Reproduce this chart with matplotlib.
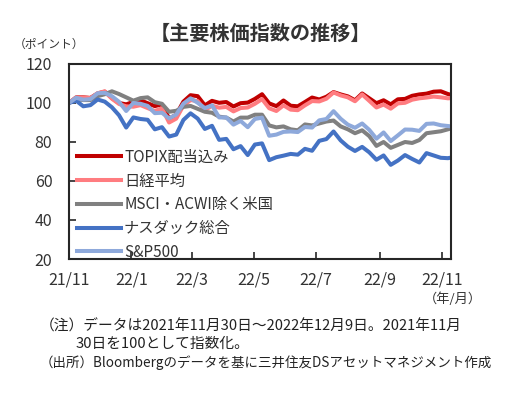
import pandas as pd
import matplotlib
matplotlib.use("Agg")
import matplotlib.pyplot as plt

plt.rcParams["font.family"] = ["Noto Sans CJK JP", "DejaVu Sans"]

# weekly samples, 2021-11-30 .. 2022-12-09 (index, 2021/11/30 = 100)
dates = list(pd.date_range("2021-11-30", "2022-12-06", freq="7D")) + [pd.Timestamp("2022-12-09")]

topix_tr = [100.0, 102.9, 102.9, 102.6, 104.9, 105.8, 102.5, 100.0, 99.3, 100.6,
            101.4, 99.9, 98.4, 99.3, 92.0, 94.0, 100.7, 104.0, 103.5, 98.8,
            101.1, 100.1, 100.5, 98.2, 99.9, 100.2, 102.1, 104.5, 99.8, 98.4,
            101.3, 98.6, 98.3, 100.5, 102.8, 101.8, 103.2, 105.6, 104.4, 103.4,
            101.4, 104.9, 102.4, 99.9, 101.4, 99.3, 101.9, 102.1, 103.7, 104.4,
            104.8, 105.8, 106.0, 104.6, 104.2]
nikkei = [100.0, 102.8, 102.8, 102.5, 105.0, 106.0, 102.2, 99.5, 98.3, 98.1,
          98.9, 97.4, 95.9, 97.3, 90.0, 92.0, 98.7, 101.5, 101.0, 96.3,
          98.6, 97.6, 98.0, 95.7, 97.4, 97.7, 99.6, 102.0, 97.3, 95.9,
          98.8, 96.6, 96.3, 98.8, 101.0, 100.8, 102.2, 105.4, 103.9, 102.9,
          100.9, 104.4, 101.1, 97.7, 99.2, 97.1, 99.8, 100.1, 101.7, 102.4,
          102.8, 103.3, 102.9, 102.4, 102.5]
msci_ex_us = [100.0, 102.0, 101.5, 101.5, 103.5, 104.5, 106.0, 104.6, 102.9, 101.2,
              102.5, 102.9, 100.4, 99.6, 95.5, 96.0, 98.0, 98.5, 97.0, 95.5,
              95.0, 93.0, 92.5, 90.5, 92.5, 92.5, 94.0, 94.0, 88.5, 87.5,
              88.0, 86.5, 86.0, 89.0, 88.5, 89.5, 90.5, 91.0, 88.0, 86.5,
              84.5, 86.0, 83.0, 78.0, 80.0, 77.0, 78.5, 80.0, 79.5, 81.0,
              84.5, 85.0, 85.5, 86.5, 87.0]
nasdaq = [100.0, 101.2, 98.3, 98.9, 101.8, 100.7, 97.8, 93.7, 87.4, 92.6,
          91.8, 91.4, 86.5, 87.6, 82.8, 83.8, 91.3, 94.7, 92.0, 86.7,
          88.3, 81.1, 81.6, 76.3, 77.9, 73.3, 78.7, 79.3, 70.7, 72.2,
          73.0, 73.9, 73.5, 76.5, 75.5, 80.6, 81.5, 85.4, 80.8, 77.6,
          75.4, 77.5, 74.7, 70.9, 73.1, 68.3, 70.5, 73.3, 71.3, 69.5,
          74.3, 73.1, 71.9, 71.7, 72.0]
sp500 = [100.0, 102.7, 101.7, 102.0, 105.0, 105.2, 103.5, 100.6, 95.9, 100.0,
         99.6, 98.5, 94.8, 95.0, 92.1, 94.1, 99.7, 102.4, 100.1, 97.4,
         98.8, 92.6, 92.6, 88.9, 90.8, 87.6, 91.8, 92.5, 83.2, 83.8,
         85.2, 85.4, 85.1, 87.7, 87.4, 91.1, 91.8, 95.8, 91.9, 88.9,
         87.3, 89.5, 86.2, 81.7, 84.9, 80.5, 83.4, 86.4, 86.3, 85.7,
         89.3, 89.5, 88.6, 88.2, 88.0]

series_names = ["TOPIX配当込み", "日経平均", "MSCI・ACWI除く米国", "ナスダック総合", "S&P500"]
colors = ["#C00000", "#FF7C80", "#808080", "#4472C4", "#8EA9DB"]

tick_dates = pd.to_datetime(["2021-11-30", "2022-01-30", "2022-03-30", "2022-05-30",
                             "2022-07-30", "2022-09-30", "2022-11-30"])
tick_labels = ["21/11", "22/1", "22/3", "22/5", "22/7", "22/9", "22/11"]

text_col = "#333333"

fig = plt.figure(figsize=(5.16, 3.93), dpi=100)
ax = fig.add_axes([69 / 516, 1 - 259 / 393, 382 / 516, 195 / 393])

for vals, name, c in zip([topix_tr, nikkei, msci_ex_us, nasdaq, sp500], series_names, colors):
    ax.plot(dates, vals, color=c, lw=2.9, label=name, solid_joinstyle="round")

ax.set_xlim(pd.Timestamp("2021-11-30"), pd.Timestamp("2022-12-09"))
ax.set_ylim(20, 120)
ax.set_yticks([20, 40, 60, 80, 100, 120])
ax.set_xticks(tick_dates)
ax.set_xticklabels(tick_labels)

for s in ax.spines.values():
    s.set_color("#262626")
    s.set_linewidth(1.5)
ax.tick_params(axis="both", direction="in", length=5, width=1.2, color="#262626",
               labelsize=11.5, labelcolor=text_col)
ax.tick_params(axis="y", pad=12)
ax.tick_params(axis="x", pad=9)

leg = ax.legend(loc="upper left", bbox_to_anchor=(0.02, 0.565), frameon=False,
                fontsize=11, handlelength=2.9, handletextpad=0.2,
                labelspacing=0.44, borderpad=0, borderaxespad=0)
for t in leg.get_texts():
    t.set_color(text_col)

fig.text(0.505, 1 - 33 / 393, "【主要株価指数の推移】", ha="center", va="center",
         fontsize=14.5, fontweight="bold", color=text_col)
fig.text(14 / 516, 1 - 44 / 393, "（ポイント）", ha="left", va="center",
         fontsize=8.5, color=text_col)
fig.text(482 / 516, 1 - 299 / 393, "（年/月）", ha="right", va="center",
         fontsize=9.5, color=text_col)

notes = [
    (40, 326, "（注）データは2021年11月30日～2022年12月9日。2021年11月", 10.6),
    (76, 344, "30日を100として指数化。", 10.6),
    (40, 363, "（出所）Bloombergのデータを基に三井住友DSアセットマネジメント作成", 9.7),
]
for x, y, s, fs in notes:
    fig.text(x / 516, 1 - y / 393, s, ha="left", va="center", fontsize=fs, color="#222222")

fig.savefig("out.png", dpi=100)
